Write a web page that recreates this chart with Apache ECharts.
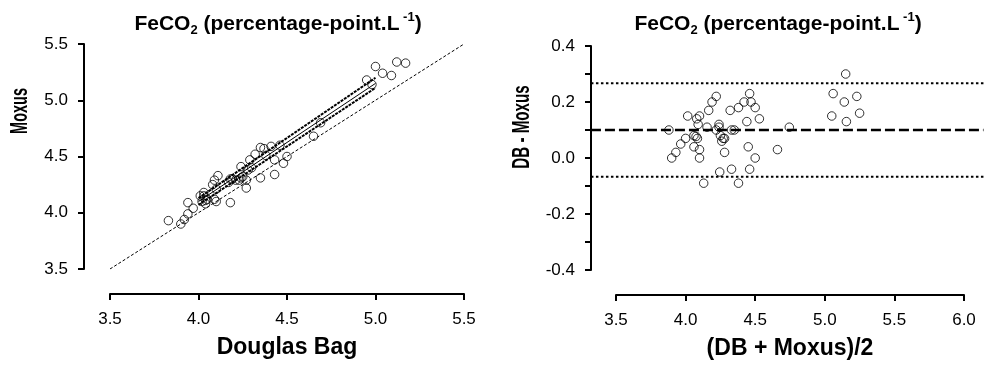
<!DOCTYPE html>
<html>
<head>
<meta charset="utf-8">
<script src="https://cdn.jsdelivr.net/npm/echarts@6/dist/echarts.min.js"></script>
<style>
html,body{margin:0;padding:0;background:#fff;}
#chart{width:988px;height:365px;}
</style>
</head>
<body>
<div id="chart"></div>
<script>
// ---- Left panel: Douglas Bag vs Moxus ----
const dbValues = [3.83,3.90,3.92,3.94,3.97,3.94,4.04,4.02,4.04,4.01,4.03,4.03,4.05,4.09,4.10,4.18,4.10,4.08,4.09,4.11,4.17,4.18,4.19,4.21,4.23,4.24,4.25,4.27,4.27,4.24,4.28,4.30,4.35,4.29,4.43,4.32,4.38,4.43,4.35,4.37,4.48,4.41,4.50,4.46,4.65,4.69,4.98,4.95,5.04,5.00,5.09,5.12,5.17];
const moxusValues = [3.93,3.90,3.94,3.99,4.04,4.09,4.08,4.10,4.11,4.15,4.18,4.15,4.12,4.12,4.10,4.09,4.21,4.25,4.29,4.33,4.27,4.30,4.30,4.29,4.29,4.31,4.32,4.29,4.22,4.41,4.38,4.40,4.31,4.47,4.34,4.52,4.51,4.47,4.58,4.57,4.44,4.59,4.50,4.60,4.68,4.80,5.14,5.18,5.24,5.30,5.22,5.34,5.33];
const identityX = [3.5, 5.5];
const identityY = [3.5, 5.5];
const regX = [4.0, 5.0];
const regY = [4.10, 5.15];
const ciUpperY = [4.13, 5.20];
const ciLowerY = [4.07, 5.11];
const leftTicks = ['3.5','4.0','4.5','5.0','5.5'];

// ---- Right panel: Bland-Altman ----
const baMean = [3.88,3.90,3.93,3.965,4.00,4.015,4.06,4.06,4.075,4.08,4.10,4.09,4.085,4.10,4.10,4.13,4.154,4.166,4.19,4.22,4.22,4.24,4.24,4.25,4.26,4.27,4.28,4.28,4.245,4.32,4.33,4.35,4.33,4.38,4.38,4.42,4.44,4.45,4.46,4.47,4.46,4.50,4.50,4.53,4.66,4.745,5.05,5.06,5.14,5.15,5.155,5.23,5.25];
const baDiff = [0.10,0.00,0.02,0.05,0.07,0.15,0.04,0.08,0.077,0.14,0.15,0.12,0.07,0.03,0.00,-0.09,0.11,0.17,0.20,0.22,0.10,0.12,0.11,0.08,0.06,0.07,0.07,0.02,-0.05,0.17,0.10,0.10,-0.04,0.18,-0.09,0.20,0.13,0.04,0.23,0.20,-0.04,0.18,0.00,0.14,0.03,0.11,0.15,0.23,0.20,0.30,0.13,0.22,0.16];
const biasValue = 0.10;
const upperLoA = 0.267;
const lowerLoA = -0.067;
const loaXExtent = [3.32, 6.14];
const rightXTicks = ['3.5','4.0','4.5','5.0','5.5','6.0'];
const rightYTicks = ['-0.4','-0.2','0.0','0.2','0.4'];

const FONT = "'Liberation Sans', Arial, Helvetica, sans-serif";
const zip = (a, b) => a.map((v, i) => [v, b[i]]);

const titleText = '{b|FeCO}{s|2}{b| (percentage-point.L}{p| -1}{b|)}';
const titleRich = {
  b: {fontFamily: FONT, fontWeight: 'bold', fontSize: 21, color: '#000', lineHeight: 26, verticalAlign: 'middle'},
  s: {fontFamily: FONT, fontWeight: 'bold', fontSize: 13, color: '#000', lineHeight: 13, verticalAlign: 'bottom'},
  p: {fontFamily: FONT, fontWeight: 'bold', fontSize: 13, color: '#000', lineHeight: 13, verticalAlign: 'top'}
};

function axisCommon(extra) {
  return Object.assign({
    type: 'value',
    splitLine: {show: false},
    axisLine: {show: true, onZero: false, lineStyle: {color: '#000', width: 2}},
    axisTick: {show: true, length: 6, lineStyle: {color: '#000', width: 2}},
    axisLabel: {color: '#000', fontFamily: FONT, fontSize: 17, formatter: v => v.toFixed(1)}
  }, extra);
}

const nameStyle = {color: '#000', fontFamily: FONT, fontWeight: 'bold', fontSize: 23};

const chart = echarts.init(document.getElementById('chart'), null, {renderer: 'canvas'});
chart.setOption({
  animation: false,
  backgroundColor: '#fff',
  title: [
    {text: titleText, left: 273, top: 6, textAlign: 'center', textStyle: {rich: titleRich}},
    {text: titleText, left: 773, top: 6, textAlign: 'center', textStyle: {rich: titleRich}}
  ],
  grid: [
    {left: 110, top: 44, width: 354, height: 225},
    {left: 616, top: 46, width: 348, height: 224}
  ],
  xAxis: [
    axisCommon({gridIndex: 0, min: 3.5, max: 5.5, interval: 0.5, offset: 25,
      axisLabel: {color: '#000', fontFamily: FONT, fontSize: 17, margin: 17, formatter: v => leftTicks[Math.round((v - 3.5) / 0.5)]},
      name: 'Douglas Bag', nameLocation: 'middle', nameGap: 42, nameTextStyle: nameStyle}),
    axisCommon({gridIndex: 1, min: 3.5, max: 6.0, interval: 0.5, offset: 25,
      axisLabel: {color: '#000', fontFamily: FONT, fontSize: 17, margin: 17, formatter: v => rightXTicks[Math.round((v - 3.5) / 0.5)]},
      name: '(DB + Moxus)/2', nameLocation: 'middle', nameGap: 42, nameTextStyle: nameStyle})
  ],
  yAxis: [
    axisCommon({gridIndex: 0, min: 3.5, max: 5.5, interval: 0.5, offset: 26,
      axisLabel: {color: '#000', fontFamily: FONT, fontSize: 17, margin: 16, formatter: v => leftTicks[Math.round((v - 3.5) / 0.5)]}}),
    axisCommon({gridIndex: 1, min: -0.4, max: 0.4, interval: 0.2, offset: 25,
      minorTick: {show: true, splitNumber: 2, length: 6, lineStyle: {color: '#000', width: 2}},
      axisLabel: {color: '#000', fontFamily: FONT, fontSize: 17, margin: 16, formatter: v => rightYTicks[Math.round((v + 0.4) / 0.2)]}})
  ],
  graphic: [
    {id: 'yname0', type: 'text', x: 21, y: 111, rotation: Math.PI / 2, scaleX: 0.63,
      style: {text: 'Moxus', fontFamily: FONT, fontWeight: 'bold', fontSize: 23, fill: '#000', align: 'center', verticalAlign: 'middle'}},
    {id: 'yname1', type: 'text', x: 523, y: 127, rotation: Math.PI / 2, scaleX: 0.66,
      style: {text: 'DB - Moxus', fontFamily: FONT, fontWeight: 'bold', fontSize: 23, fill: '#000', align: 'center', verticalAlign: 'middle'}}
  ],
  series: [
    {type: 'line', xAxisIndex: 0, yAxisIndex: 0, data: zip(identityX, identityY), showSymbol: false, silent: true,
      lineStyle: {color: '#000', width: 1, type: [3, 2]}},
    {type: 'line', xAxisIndex: 0, yAxisIndex: 0, data: zip(regX, ciUpperY), showSymbol: false, silent: true,
      lineStyle: {color: '#000', width: 2, type: [3, 1]}},
    {type: 'line', xAxisIndex: 0, yAxisIndex: 0, data: zip(regX, ciLowerY), showSymbol: false, silent: true,
      lineStyle: {color: '#000', width: 2, type: [3, 1]}},
    {type: 'line', xAxisIndex: 0, yAxisIndex: 0, data: zip(regX, regY), showSymbol: false, silent: true,
      lineStyle: {color: '#000', width: 1}},
    {type: 'scatter', xAxisIndex: 0, yAxisIndex: 0, data: zip(dbValues, moxusValues), symbol: 'circle', symbolSize: 8.5,
      silent: true, z: 5, itemStyle: {color: 'rgba(255,255,255,0)', borderColor: '#000', borderWidth: 1}},
    {type: 'scatter', xAxisIndex: 1, yAxisIndex: 1, data: zip(baMean, baDiff), symbol: 'circle', symbolSize: 8.5,
      silent: true, z: 5, itemStyle: {color: 'rgba(255,255,255,0)', borderColor: '#000', borderWidth: 1}}
  ]
});

// Bias and limits-of-agreement lines, positioned through the right panel's own axes
// (they run from the y-axis line past the last tick, beyond the grid, as in the original).
const refLines = [
  {value: upperLoA, width: 2, dash: [2.5, 2.5]},
  {value: biasValue, width: 2.5, dash: [10, 4]},
  {value: lowerLoA, width: 2, dash: [2.5, 2.5]}
];
chart.setOption({
  graphic: refLines.map((l, i) => {
    const p1 = chart.convertToPixel({xAxisIndex: 1, yAxisIndex: 1}, [loaXExtent[0], l.value]);
    const p2 = chart.convertToPixel({xAxisIndex: 1, yAxisIndex: 1}, [loaXExtent[1], l.value]);
    return {id: 'ref' + i, type: 'line', silent: true, z: 3,
      shape: {x1: p1[0], y1: p1[1], x2: p2[0], y2: p2[1]},
      style: {stroke: '#000', lineWidth: l.width, lineDash: l.dash}};
  })
});
</script>
</body>
</html>
